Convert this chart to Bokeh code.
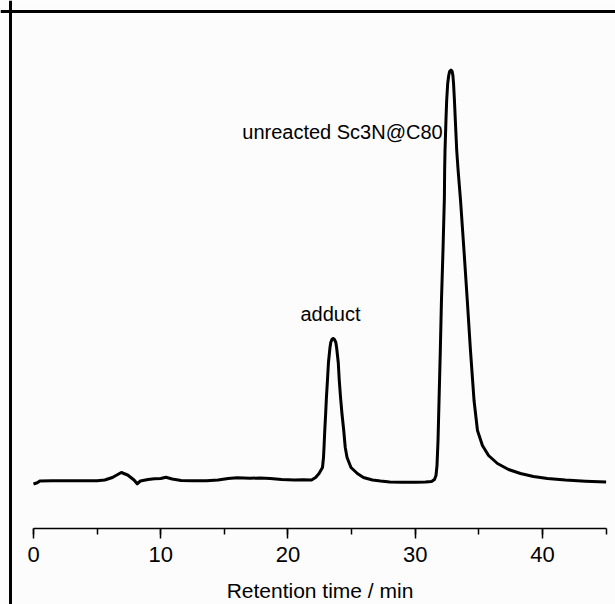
from bokeh.plotting import figure
from bokeh.models import Range1d, LinearAxis, SingleIntervalTicker, Span, Label
from bokeh.embed import file_html
from bokeh.resources import INLINE

# chromatogram trace (retention time in min, detector signal in arbitrary units)
time_min = [0.0, 0.3, 0.5, 1.5, 3.0, 5.0, 5.6, 6.2, 6.9, 7.4, 7.9, 8.15, 8.4, 9.0, 9.5,
            10.0, 10.4, 10.9, 11.6, 12.5, 13.6, 14.5, 15.3, 16.0, 17.0, 17.8, 18.6, 19.5,
            20.5, 21.2,
            # adduct peak
            21.85, 22.17, 22.44, 22.71, 22.79, 22.83, 22.89, 22.96, 23.02, 23.10, 23.18,
            23.30, 23.36, 23.45, 23.55, 23.65, 23.76, 23.82, 23.95, 24.03, 24.13, 24.24,
            24.38, 24.50, 24.64, 24.95, 25.45, 25.93, 26.64, 27.27,
            # valley
            28.0, 29.0, 30.0, 30.8,
            # main peak
            31.28, 31.51, 31.63, 31.71, 31.79, 31.87, 31.97, 32.06, 32.18, 32.29, 32.31,
            32.34, 32.42, 32.47, 32.55, 32.63, 32.70, 32.81, 32.90, 32.96, 33.01, 33.08,
            33.14, 33.26, 33.37, 33.56, 33.83, 34.09, 34.34, 34.62, 34.89, 35.28, 35.76,
            36.46, 37.33, 38.27, 39.29, 40.39, 41.81, 43.38, 45.0]
signal = [-1.5, -0.3, 1.5, 1.7, 1.7, 1.7, 2.5, 5.0, 10.0, 7.5, 2.5, -1.3, 1.5, 3.0, 3.7,
          4.0, 5.3, 3.5, 2.0, 1.7, 1.7, 2.5, 4.0, 4.7, 4.2, 4.5, 4.0, 3.0,
          2.5, 2.7,
          2.5, 5.0, 9.0, 15.0, 25.0, 35.0, 52.0, 69.0, 85.0, 102.0, 120.0,
          135.0, 140.0, 143.0, 144.0, 143.0, 140.0, 135.0, 120.0, 102.0, 85.0, 69.0,
          52.0, 35.0, 25.0, 15.0, 9.0, 5.0, 2.5, 1.5,
          0.6, 0.3, 0.3, 0.5,
          1.0, 3.0, 7.0, 17.0, 42.0, 82.0, 132.0, 182.0, 232.0, 285.0, 312.0,
          332.0, 365.0, 382.0, 399.0, 407.0, 411.0, 412.5, 411.0, 407.0, 399.0, 382.0,
          365.0, 332.0, 312.0, 282.0, 232.0, 182.0, 132.0, 82.0, 52.0, 37.0, 27.0,
          19.0, 13.0, 9.0, 6.0, 4.0, 2.5, 1.3, 0.5]

peak_labels = ["adduct", "unreacted Sc3N@C80"]
x_label = "Retention time / min"
x_bounds = (0, 45)

FONT = "Liberation Sans"

p = figure(width=615, height=604, output_backend="svg", toolbar_location=None,
           x_axis_location=None, y_axis_location=None,
           min_border=0, min_border_left=0, min_border_right=0,
           min_border_top=0, min_border_bottom=0,
           x_range=Range1d(-2.593, 45.737), y_range=Range1d(-122, 482))
p.outline_line_color = None
p.background_fill_color = "#fcfcfc"
p.border_fill_color = "#fcfcfc"
p.grid.visible = False

# frame lines (left and top)
p.add_layout(Span(location=-1.807, dimension="height", line_color="black", line_width=3))
p.add_layout(Span(location=471, dimension="width", line_color="black", line_width=3))

p.line(time_min, signal, line_color="black", line_width=3, line_join="round")

xaxis = LinearAxis(ticker=SingleIntervalTicker(interval=10, num_minor_ticks=2),
                   fixed_location=-46, bounds=x_bounds, axis_label=x_label)
xaxis.axis_line_width = 1.5
xaxis.axis_line_color = "black"
xaxis.major_tick_line_color = "black"
xaxis.major_tick_line_width = 1.5
xaxis.minor_tick_line_color = "black"
xaxis.minor_tick_line_width = 1.5
xaxis.major_tick_in = 0
xaxis.major_tick_out = 10
xaxis.minor_tick_in = 0
xaxis.minor_tick_out = 6
xaxis.major_label_text_font = FONT
xaxis.major_label_text_font_size = "22px"
xaxis.major_label_text_color = "black"
xaxis.major_label_standoff = 8
xaxis.axis_label_text_font = FONT
xaxis.axis_label_text_font_size = "21px"
xaxis.axis_label_text_font_style = "normal"
xaxis.axis_label_text_color = "black"
xaxis.axis_label_standoff = 14
p.add_layout(xaxis, "below")

p.add_layout(Label(x=23.34, y=169, text=peak_labels[0], text_font=FONT,
                   text_font_size="20px", text_align="center", text_baseline="alphabetic",
                   text_color="black"))
p.add_layout(Label(x=24.28, y=351, text=peak_labels[1], text_font=FONT,
                   text_font_size="20px", text_align="center", text_baseline="alphabetic",
                   text_color="black"))

open("out.html", "w").write(file_html(p, INLINE))
